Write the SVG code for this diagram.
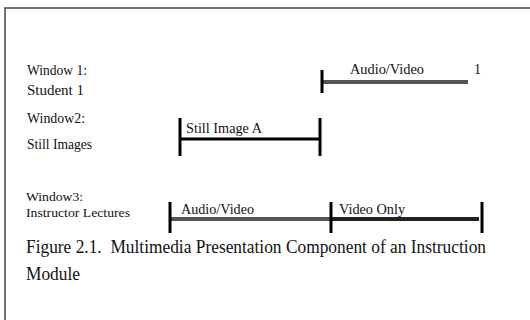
<svg xmlns="http://www.w3.org/2000/svg" width="530" height="320" viewBox="0 0 530 320">
<style>
text{font-family:"Liberation Serif","Times New Roman",serif;fill:#111}
.s{font-size:14px}
.t{font-size:13px}
.c{font-size:18px}
.tick{stroke:#000;stroke-width:3}
</style>
<rect x="5" y="8" width="540" height="330" fill="#fff" stroke="#444" stroke-width="1.5"/>
<g id="labels">
<text class="s" x="27" y="75" textLength="60" lengthAdjust="spacingAndGlyphs">Window 1:</text>
<text class="s" x="27" y="95" textLength="57" lengthAdjust="spacingAndGlyphs">Student 1</text>
<text class="s" x="27" y="123" textLength="58" lengthAdjust="spacingAndGlyphs">Window2:</text>
<text class="s" x="27" y="149" textLength="65" lengthAdjust="spacingAndGlyphs">Still Images</text>
<text class="t" x="26" y="201" textLength="57" lengthAdjust="spacingAndGlyphs">Window3:</text>
<text class="t" x="26" y="216.5" textLength="104" lengthAdjust="spacingAndGlyphs">Instructor Lectures</text>
</g>
<g id="connectors">
<line x1="322" y1="82" x2="468" y2="82" stroke="#555" stroke-width="4"/>
<line class="tick" x1="322" y1="70" x2="322" y2="93"/>
<line x1="180" y1="139" x2="320" y2="139" stroke="#000" stroke-width="3"/>
<line class="tick" x1="180" y1="118" x2="180" y2="156"/>
<line class="tick" x1="320" y1="118" x2="320" y2="156"/>
<line x1="170" y1="219" x2="331" y2="219" stroke="#555" stroke-width="4"/>
<line x1="331" y1="219" x2="479" y2="219" stroke="#222" stroke-width="4"/>
<line class="tick" x1="170" y1="202" x2="170" y2="233"/>
<line class="tick" x1="331" y1="202" x2="331" y2="233"/>
<line class="tick" x1="482" y1="202" x2="482" y2="233"/>
</g>
<g id="w1">
<text class="s" x="350" y="74" textLength="74" lengthAdjust="spacingAndGlyphs">Audio/Video</text>
<text class="s" x="474" y="74">1</text>
</g>
<g id="w2">
<text class="s" x="186" y="133" textLength="76" lengthAdjust="spacingAndGlyphs">Still Image A</text>
</g>
<g id="w3">
<text class="s" x="181" y="214" textLength="73" lengthAdjust="spacingAndGlyphs">Audio/Video</text>
<text class="s" x="339" y="214" textLength="66" lengthAdjust="spacingAndGlyphs">Video Only</text>
</g>
<g id="caption">
<text class="c" x="26" y="253" textLength="460" lengthAdjust="spacingAndGlyphs">Figure 2.1.&#160; Multimedia Presentation Component of an Instruction</text>
<text class="c" x="26" y="280" textLength="54" lengthAdjust="spacingAndGlyphs">Module</text>
</g>
</svg>
